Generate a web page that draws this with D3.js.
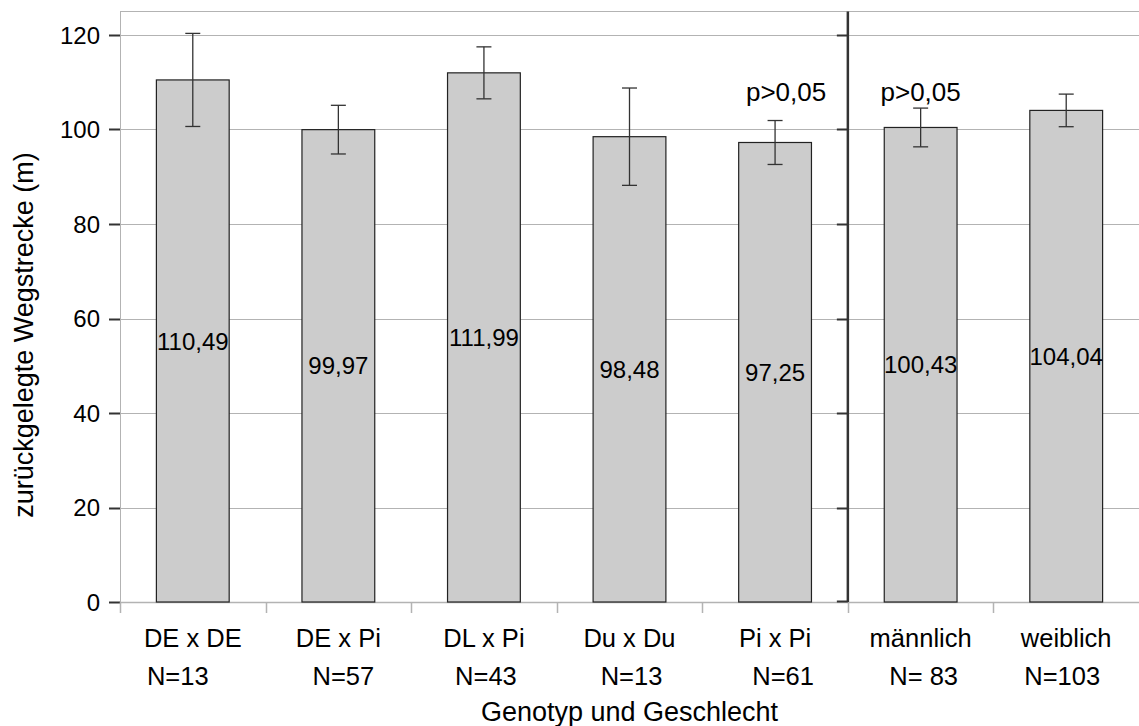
<!DOCTYPE html>
<html>
<head>
<meta charset="utf-8">
<script src="https://cdn.jsdelivr.net/npm/d3@7"></script>
<style>
  html, body { margin: 0; padding: 0; background: #fff; }
  svg { display: block; font-family: "Liberation Sans", Arial, sans-serif; }
</style>
</head>
<body>
<svg id="chart" width="1139" height="726"></svg>
<script>
const categories = ["DE x DE", "DE x Pi", "DL x Pi", "Du x Du", "Pi x Pi", "männlich", "weiblich"];
const nLabels = ["N=13", "N=57", "N=43", "N=13", "N=61", "N= 83", "N=103"];
const means = [110.49, 99.97, 111.99, 98.48, 97.25, 100.43, 104.04];
const errors = [9.85, 5.15, 5.5, 10.3, 4.65, 4.1, 3.45];
const valueLabels = ["110,49", "99,97", "111,99", "98,48", "97,25", "100,43", "104,04"];
const yTicks = [0, 20, 40, 60, 80, 100, 120];
const annotations = [{cat: "Pi x Pi", text: "p>0,05"}, {cat: "männlich", text: "p>0,05"}];
const dividerAfter = "Pi x Pi";
const yTitle = "zurückgelegte Wegstrecke (m)";
const xTitle = "Genotyp und Geschlecht";

// layout / style (not data)
const annotationNudge = [11, 0];
const nLabelNudge = [-15, 5, 2, 2, 8, 3, -4];

const svg = d3.select("#chart");
const pLeft = 120, pRight = 1139, pTop = 11.5, pBottom = 602;

const x = d3.scaleBand().domain(categories).range([pLeft, pRight]).paddingInner(0.5).paddingOuter(0.25);
const xCat = d3.scaleBand().domain(categories).range([pLeft, pRight]).padding(0);
const y = d3.scaleLinear().domain([0, 120]).range([pBottom, 35]);

// frame
svg.append("line").attr("x1", pLeft + 0.5).attr("x2", pLeft + 0.5).attr("y1", pTop).attr("y2", pBottom)
  .attr("stroke", "#b3b3b3").attr("stroke-width", 1);
svg.append("line").attr("x1", pLeft).attr("x2", pRight).attr("y1", pTop).attr("y2", pTop)
  .attr("stroke", "#b3b3b3").attr("stroke-width", 1);

// gridlines
svg.append("g").selectAll("line").data(yTicks.filter(d => d > 0)).join("line")
  .attr("x1", pLeft).attr("x2", pRight)
  .attr("y1", d => Math.round(y(d)) + 0.5).attr("y2", d => Math.round(y(d)) + 0.5)
  .attr("stroke", "#b3b3b3").attr("stroke-width", 1);

// y axis ticks and labels
const yAxis = svg.append("g");
yAxis.selectAll("line").data(yTicks).join("line")
  .attr("x1", 109).attr("x2", pLeft)
  .attr("y1", d => Math.round(y(d)) + 0.5).attr("y2", d => Math.round(y(d)) + 0.5)
  .attr("stroke", "#333").attr("stroke-width", 2);
yAxis.selectAll("text").data(yTicks).join("text")
  .attr("x", 100).attr("y", d => y(d)).attr("dy", "0.36em")
  .attr("text-anchor", "end").attr("font-size", 24).attr("fill", "#000")
  .text(d => d);

// bottom axis line and category separators
svg.append("line").attr("x1", pLeft).attr("x2", pRight).attr("y1", pBottom + 0.5).attr("y2", pBottom + 0.5)
  .attr("stroke", "#b3b3b3").attr("stroke-width", 1.5);
svg.append("g").selectAll("line").data(categories).join("line")
  .attr("x1", d => Math.round(xCat(d)) + 0.5).attr("x2", d => Math.round(xCat(d)) + 0.5)
  .attr("y1", pBottom).attr("y2", pBottom + 11)
  .attr("stroke", "#b3b3b3").attr("stroke-width", 1.5);

// divider with ticks
const divX = xCat(dividerAfter) + xCat.bandwidth();
svg.append("line").attr("x1", divX).attr("x2", divX).attr("y1", pTop).attr("y2", pBottom)
  .attr("stroke", "#333").attr("stroke-width", 2.5);
svg.append("g").selectAll("line").data(yTicks).join("line")
  .attr("x1", divX - 11).attr("x2", divX)
  .attr("y1", d => Math.round(y(d)) + 0.5 - (d === 0 ? 1 : 0)).attr("y2", d => Math.round(y(d)) + 0.5 - (d === 0 ? 1 : 0))
  .attr("stroke", "#333").attr("stroke-width", 2);

// bars
svg.append("g").selectAll("rect").data(categories).join("rect")
  .attr("x", d => x(d)).attr("width", x.bandwidth())
  .attr("y", (d, i) => y(means[i])).attr("height", (d, i) => y(0) - y(means[i]))
  .attr("fill", "#cccccc").attr("stroke", "#222").attr("stroke-width", 1.2);

// error bars
const eb = svg.append("g").attr("stroke", "#333").attr("stroke-width", 1.3);
categories.forEach((c, i) => {
  const cx = x(c) + x.bandwidth() / 2;
  const y1 = y(means[i] + errors[i]), y2 = y(means[i] - errors[i]);
  eb.append("line").attr("x1", cx).attr("x2", cx).attr("y1", y1).attr("y2", y2);
  eb.append("line").attr("x1", cx - 7.5).attr("x2", cx + 7.5).attr("y1", y1).attr("y2", y1);
  eb.append("line").attr("x1", cx - 7.5).attr("x2", cx + 7.5).attr("y1", y2).attr("y2", y2);
});

// value labels at half bar height
svg.append("g").selectAll("text").data(categories).join("text")
  .attr("x", d => x(d) + x.bandwidth() / 2)
  .attr("y", (d, i) => y(means[i] / 2)).attr("dy", "0.36em")
  .attr("text-anchor", "middle").attr("font-size", 24).attr("fill", "#000")
  .text((d, i) => valueLabels[i]);

// annotations
svg.append("g").selectAll("text").data(annotations).join("text")
  .attr("x", (d, i) => x(d.cat) + x.bandwidth() / 2 + annotationNudge[i])
  .attr("y", 101)
  .attr("text-anchor", "middle").attr("font-size", 26).attr("fill", "#000")
  .text(d => d.text);

// category labels
svg.append("g").selectAll("text").data(categories).join("text")
  .attr("x", d => xCat(d) + xCat.bandwidth() / 2).attr("y", 647)
  .attr("text-anchor", "middle").attr("font-size", 25.5).attr("fill", "#000")
  .text(d => d);
svg.append("g").selectAll("text").data(categories).join("text")
  .attr("x", (d, i) => xCat(d) + xCat.bandwidth() / 2 + nLabelNudge[i]).attr("y", 685)
  .attr("text-anchor", "middle").attr("font-size", 25.5).attr("fill", "#000")
  .style("white-space", "pre")
  .text((d, i) => nLabels[i]);

// titles
svg.append("text").attr("x", (pLeft + pRight) / 2).attr("y", 721)
  .attr("text-anchor", "middle").attr("font-size", 27).attr("fill", "#000").text(xTitle);
svg.append("text").attr("transform", "translate(33,335) rotate(-90)")
  .attr("text-anchor", "middle").attr("font-size", 27).attr("fill", "#000").text(yTitle);
</script>
</body>
</html>
